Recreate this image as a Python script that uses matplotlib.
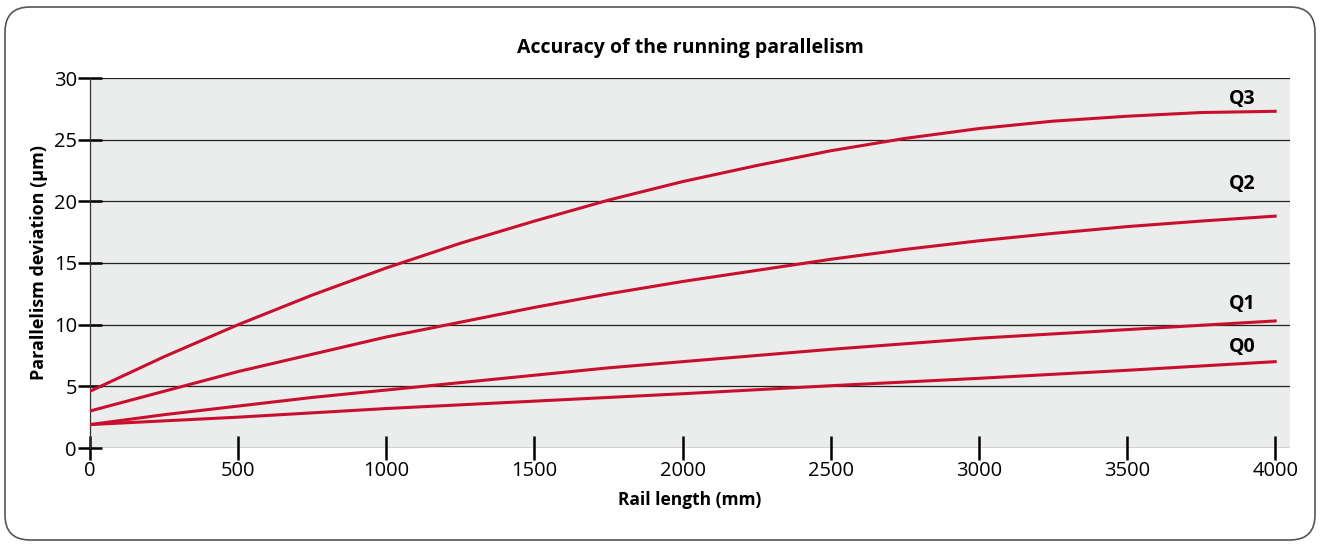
import matplotlib

matplotlib.use("Agg")

import matplotlib.pyplot as plt
from matplotlib.patches import FancyBboxPatch

plt.rcParams["font.family"] = ["Open Sans", "DejaVu Sans"]

# rail length (mm)
rail_q3 = [0, 250, 500, 750, 1000, 1250, 1500, 1750, 2000, 2250, 2500, 2750, 3000, 3250, 3500, 3750, 4000]
dev_q3 = [4.6, 7.4, 10.0, 12.4, 14.6, 16.6, 18.4, 20.1, 21.6, 22.9, 24.1, 25.1, 25.9, 26.5, 26.9, 27.2, 27.3]

rail_q2 = [0, 250, 500, 750, 1000, 1250, 1500, 1750, 2000, 2250, 2500, 2750, 3000, 3250, 3500, 3750, 4000]
dev_q2 = [3.0, 4.6, 6.2, 7.6, 9.0, 10.2, 11.4, 12.5, 13.5, 14.4, 15.3, 16.1, 16.8, 17.4, 17.95, 18.4, 18.8]

rail_q1 = [0, 250, 500, 750, 1000, 1250, 1500, 1750, 2000, 2250, 2500, 2750, 3000, 3250, 3500, 3750, 4000]
dev_q1 = [1.9, 2.7, 3.4, 4.1, 4.7, 5.3, 5.9, 6.5, 7.0, 7.5, 8.0, 8.45, 8.9, 9.25, 9.6, 9.95, 10.3]

rail_q0 = [0, 500, 1000, 1500, 2000, 2500, 3000, 3500, 4000]
dev_q0 = [1.9, 2.5, 3.2, 3.8, 4.4, 5.05, 5.65, 6.3, 7.0]

series = [
    ("Q3", rail_q3, dev_q3, 28.3),
    ("Q2", rail_q2, dev_q2, 21.4),
    ("Q1", rail_q1, dev_q1, 11.7),
    ("Q0", rail_q0, dev_q0, 8.2),
]

x_ticks = [0, 500, 1000, 1500, 2000, 2500, 3000, 3500, 4000]
y_ticks = [0, 5, 10, 15, 20, 25, 30]

LINE_COLOR = "#C8102E"

fig = plt.figure(figsize=(13.2, 5.45), dpi=100)

# rounded outer frame (outline only)
frame = FancyBboxPatch(
    (0.05, 0.05), 13.1, 5.33,
    boxstyle="round,pad=0,rounding_size=0.25",
    transform=fig.dpi_scale_trans,
    facecolor="none", edgecolor="#555555", linewidth=1.2, zorder=-1,
)
fig.patches.append(frame)

ax = fig.add_axes([90 / 1320, 1 - 448 / 545, 1200 / 1320, 370 / 545])
ax.set_facecolor("#EBECEC")
ax.set_xlim(0, 4050)
ax.set_ylim(0, 30)

for y in y_ticks:
    ax.axhline(y, color="#222222", linewidth=0.9, zorder=1)

for label, xs, ys, ly in series:
    ax.plot(xs, ys, color=LINE_COLOR, linewidth=2.2, zorder=3, solid_joinstyle="round")
    ax.text(3890, ly, label, fontsize=14, fontweight="bold", ha="center", va="center", color="black")

for s in ["top", "right", "bottom"]:
    ax.spines[s].set_visible(False)
ax.spines["left"].set_color("#333333")
ax.spines["left"].set_linewidth(0.9)

ax.set_xticks(x_ticks)
ax.set_yticks(y_ticks)
ax.tick_params(axis="x", direction="inout", length=17, width=1.8, labelsize=14.5, pad=1, color="black")
ax.tick_params(axis="y", direction="inout", length=17, width=1.8, labelsize=14.5, pad=1, color="black")

ax.set_xlabel("Rail length (mm)", fontsize=12.5, fontweight="bold", labelpad=7)
ax.set_ylabel("Parallelism deviation (µm)", fontsize=13, fontweight="bold", labelpad=4)
ax.set_title("Accuracy of the running parallelism", fontsize=14, fontweight="bold", pad=18)

fig.savefig("out.png", dpi=100)
